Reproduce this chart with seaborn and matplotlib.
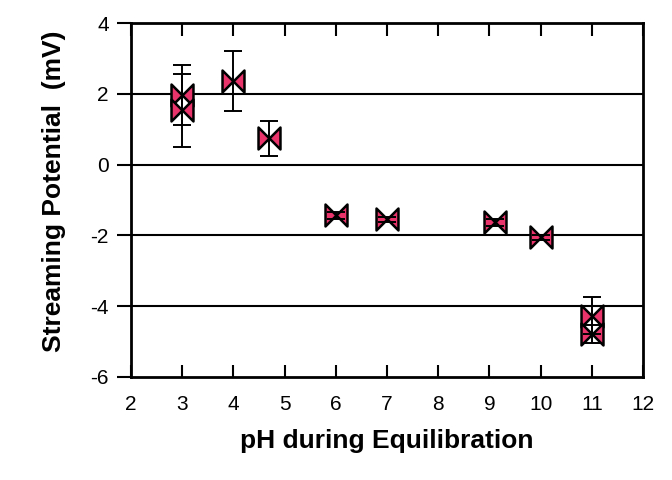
import numpy as np
import pandas as pd
import matplotlib
matplotlib.use("Agg")
import matplotlib.pyplot as plt
from matplotlib.path import Path
import seaborn as sns

# values
ph = [3.0, 3.0, 4.0, 4.7, 6.0, 7.0, 9.1, 10.0, 11.0, 11.0]
potential = [1.97, 1.53, 2.37, 0.74, -1.44, -1.55, -1.63, -2.06, -4.27, -4.79]
error = [0.85, 1.02, 0.85, 0.50, 0.10, 0.08, 0.10, 0.08, 0.52, 0.25]

x_ticks = [2, 3, 4, 5, 6, 7, 8, 9, 10, 11, 12]
y_ticks = [-6, -4, -2, 0, 2, 4]

df = pd.DataFrame({"pH": ph, "sp": potential, "err": error})

sns.set_style("ticks")
plt.rcParams["font.family"] = ["Liberation Sans", "DejaVu Sans"]
plt.rcParams["axes.unicode_minus"] = False
plt.rcParams["text.color"] = "black"
plt.rcParams["axes.labelcolor"] = "black"
plt.rcParams["xtick.color"] = "black"
plt.rcParams["ytick.color"] = "black"

# bowtie marker: two triangles meeting in the middle
bowtie = Path(
    [(-1, -1), (-1, 1), (0, 0), (-1, -1), (1, -1), (1, 1), (0, 0), (1, -1)],
    [Path.MOVETO, Path.LINETO, Path.LINETO, Path.CLOSEPOLY,
     Path.MOVETO, Path.LINETO, Path.LINETO, Path.CLOSEPOLY],
)

fig = plt.figure(figsize=(6.72, 4.8), dpi=100)
ax = fig.add_axes([0.195, 0.215, 0.762, 0.737])

sns.scatterplot(data=df, x="pH", y="sp", marker=bowtie, s=250,
                color="#e8336b", edgecolor="black", linewidth=1.8,
                ax=ax, zorder=3, legend=False)
ax.errorbar(df["pH"], df["sp"], yerr=df["err"], fmt="none", ecolor="black",
            elinewidth=1.4, capsize=6.5, capthick=1.4, zorder=4)

ax.set_xlim(2, 12)
ax.set_ylim(-6, 4)
ax.set_xticks(x_ticks)
ax.set_yticks(y_ticks)
for v in y_ticks[1:-1]:
    ax.axhline(v, color="black", lw=1.5, zorder=1)

for s in ax.spines.values():
    s.set_linewidth(2)
    s.set_color("black")
ax.tick_params(axis="x", direction="in", top=True, length=9, width=1.5,
               labelsize=15, pad=13)
ax.tick_params(axis="y", direction="out", length=10, width=1.5,
               labelsize=15, pad=6)

ax.set_xlabel("pH during Equilibration", fontsize=19, fontweight="bold", labelpad=11)
ax.set_ylabel("Streaming Potential  (mV)", fontsize=19, fontweight="bold")
ax.yaxis.set_label_coords(-0.127, 0.525)

fig.savefig("out.png", dpi=100)
